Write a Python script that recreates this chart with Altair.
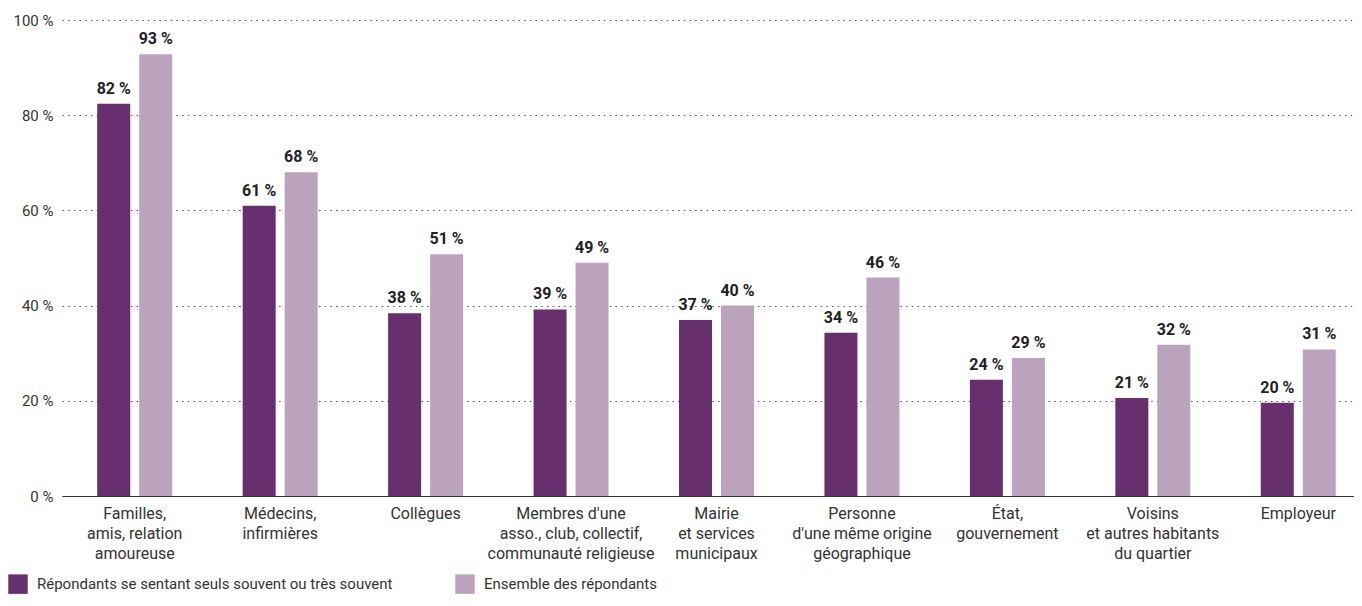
import altair as alt
import pandas as pd

categories = [
    "Familles,|amis, relation|amoureuse",
    "Médecins,|infirmières",
    "Collègues",
    "Membres d'une|asso., club, collectif,|communauté religieuse",
    "Mairie|et services|municipaux",
    "Personne|d'une même origine|géographique",
    "État,|gouvernement",
    "Voisins|et autres habitants|du quartier",
    "Employeur",
]
series = [
    "Répondants se sentant seuls souvent ou très souvent",
    "Ensemble des répondants",
]
lonely = [82.4, 61.0, 38.4, 39.2, 37.0, 34.3, 24.4, 20.6, 19.6]
everyone = [92.8, 68.0, 50.8, 49.0, 40.0, 45.9, 29.0, 31.8, 30.8]
y_ticks = [0, 20, 40, 60, 80, 100]

colors = ["#672f6e", "#bba3be"]

rows = []
for c, a, b in zip(categories, lonely, everyone):
    rows.append({"cat": c, "serie": series[0], "v": a})
    rows.append({"cat": c, "serie": series[1], "v": b})
df = pd.DataFrame(rows)

FONT = "Roboto"

base = alt.Chart(df).transform_calculate(
    label="format(round(datum.v), 'd') + ' %'"
).encode(
    x=alt.X(
        "cat:N",
        sort=categories,
        scale=alt.Scale(range=[0, 1309], paddingInner=0, paddingOuter=0),
        axis=alt.Axis(
            title=None,
            labelExpr="split(datum.label, '|')",
            labelAngle=0,
            labelFontSize=16,
            labelLineHeight=20,
            labelPadding=9,
            labelBaseline="top",
            labelColor="#333333",
            labelFont=FONT,
            ticks=False,
            domainColor="#333333",
            domainWidth=1.2,
            labelLimit=250,
        ),
    ),
    xOffset=alt.XOffset(
        "serie:N",
        sort=series,
        scale=alt.Scale(paddingInner=0.214, paddingOuter=0.839),
    ),
    y=alt.Y(
        "v:Q",
        scale=alt.Scale(domain=[0, 100]),
        axis=alt.Axis(
            title=None,
            values=y_ticks,
            labelExpr="datum.value + ' %'",
            grid=True,
            gridDash=[1.5, 4.2],
            gridColor="#555555",
            domain=False,
            ticks=False,
            labelPadding=9,
            labelFontSize=15,
            labelFont=FONT,
            labelColor="#333333",
        ),
    ),
)

bars = base.mark_bar().encode(
    color=alt.Color(
        "serie:N",
        sort=series,
        scale=alt.Scale(domain=series, range=colors),
        legend=alt.Legend(
            title=None,
            orient="none",
            legendX=-54,
            legendY=554,
            direction="horizontal",
            symbolType="square",
            symbolSize=380,
            symbolStrokeWidth=0,
            labelFontSize=15,
            labelFont=FONT,
            labelColor="#333333",
            labelOffset=9,
            columnPadding=62,
            labelLimit=600,
            padding=0,
        ),
    )
)

text = base.mark_text(
    baseline="bottom", dy=-7, fontSize=16, fontWeight="bold", font=FONT, color="#222222"
).encode(text="label:N")

chart = (
    alt.layer(bars, text)
    .properties(
        width=1292,
        height=476,
        autosize=alt.AutoSizeParams(type="none"),
        padding={"left": 54, "top": 12, "right": 0, "bottom": 102},
    )
    .configure_view(stroke=None)
)

chart.save("out.html", embed_options={"renderer": "svg", "actions": False})
